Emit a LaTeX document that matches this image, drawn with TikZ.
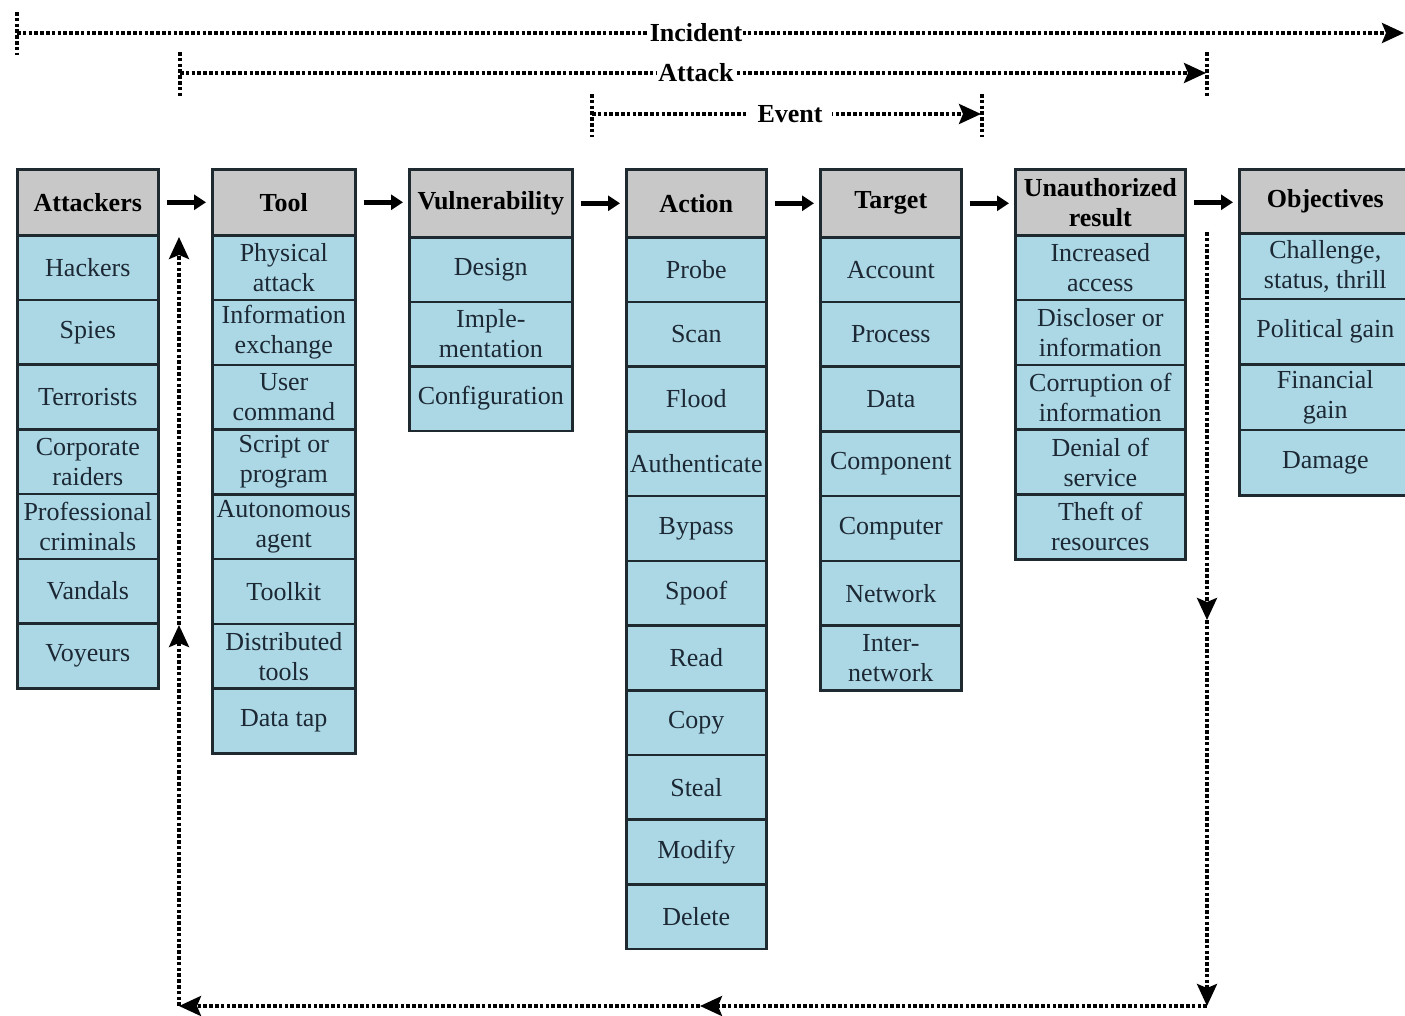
\documentclass[tikz,border=0pt]{standalone}
\usepackage{fontspec}
\setmainfont{Liberation Serif}
\usetikzlibrary{arrows.meta}

\definecolor{cellblue}{RGB}{172,216,230}
\definecolor{headgray}{RGB}{200,200,200}
\definecolor{edgecol}{RGB}{30,42,48}
\definecolor{inkcol}{RGB}{28,40,52}

\tikzset{
  box/.style={draw=edgecol, line width=2.6pt, anchor=north west, inner sep=0pt,
    align=center, font=\fontsize{26}{30}\selectfont},
  headbox/.style={box, fill=headgray, text=black, font=\fontsize{26}{30}\selectfont\bfseries},
  cellbox/.style={box, fill=cellblue, text=inkcol},
  flow/.style={line width=4.5pt, -{Triangle[length=12pt,width=15pt]},
    shorten <=7pt, shorten >=5pt},
  dotline/.style={line width=3.6pt, dash pattern=on 3.6pt off 2.2pt},
  dotarrow/.style={dotline, -{Stealth[length=22pt,width=20pt,inset=4pt]}},
  spanlabel/.style={fill=white, inner sep=1pt, font=\fontsize{26}{30}\selectfont\bfseries},
}

% #1 name, #2 left x, #3 width, #4 header height, #5 row height, #6 header, #7 items
\newcommand\drawcolumn[7]{%
  \node[headbox, minimum width=#3pt, minimum height=#4pt] (#1-0) at (#2,168) {#6};
  \foreach \t [count=\i] in {#7} {
    \node[cellbox, minimum width=#3pt, minimum height=#5pt]
      (#1-\i) at (#2,{168+#4+(\i-1)*#5}) {\t};
  }%
}

\begin{document}
\begin{tikzpicture}[x=1pt, y=-1pt]
\useasboundingbox (0,0) rectangle (1405,1016);

% columns of the taxonomy
\drawcolumn{att}{16}{141}{66}{64.7}{Attackers}
  {Hackers, Spies, Terrorists, {Corporate\\raiders}, {Professional\\criminals}, Vandals, Voyeurs}
\drawcolumn{tool}{211}{143}{66}{64.75}{Tool}
  {{Physical\\attack}, {Information\\exchange}, {User\\command}, {Script or\\program},
   {Autonomous\\agent}, Toolkit, {Distributed\\tools}, Data tap}
\drawcolumn{vul}{408}{163}{68}{64.5}{Vulnerability}
  {Design, {Imple-\\mentation}, Configuration}
\drawcolumn{act}{625}{140}{68}{64.7}{Action}
  {Probe, Scan, Flood, Authenticate, Bypass, Spoof, Read, Copy, Steal, Modify, Delete}
\drawcolumn{tgt}{819}{141}{68}{64.7}{Target}
  {Account, Process, Data, Component, Computer, Network, {Inter-\\network}}
\drawcolumn{res}{1014}{170}{66}{64.8}{Unauthorized\\result}
  {{Increased\\access}, {Discloser or\\information}, {Corruption of\\information},
   {Denial of\\service}, {Theft of\\resources}}
\drawcolumn{obj}{1238}{172}{64}{65.5}{Objectives}
  {{Challenge,\\status, thrill}, Political gain, {Financial\\gain}, Damage}

% flow between column headers
\foreach \a/\b in {att/tool, tool/vul, vul/act, act/tgt, tgt/res, res/obj}
  \draw[flow] (\a-0.east) -- (\a-0.east -| \b-0.west);

% spans above the columns
\coordinate (incL) at (17,33);
\coordinate (incR) at (1404,33);
\draw[dotline] (17,12) -- (17,55);
\draw[dotarrow] (incL) -- (incR);
\node[spanlabel] (inc) at (696,33) {Incident};

\coordinate (attL) at (180,73);
\coordinate (attR) at (1206,73);
\draw[dotline] (180,52) -- (180,97);
\draw[dotline] (1207,52) -- (1207,97);
\draw[dotarrow] (attL) -- (attR);
\node[spanlabel] (atk) at (696,73) {Attack};

\coordinate (evtL) at (592,114);
\coordinate (evtR) at (981,114);
\draw[dotline] (592,94) -- (592,137);
\draw[dotline] (982,94) -- (982,137);
\draw[dotarrow] (evtL) -- (evtR);
\node[spanlabel, inner xsep=9pt] (evt) at (790,114) {Event};

% feedback loop from result back to attackers/tools
\coordinate (fbTop) at (1207,232);
\coordinate (fbMidR) at (1207,620);
\coordinate (fbCornerR) at (1207,1006);
\coordinate (fbMidB) at (700,1006);
\coordinate (fbCornerL) at (179,1006);
\coordinate (fbMidL) at (179,625);
\coordinate (fbEnd) at (179,237);
\draw[dotarrow] (fbTop) -- (fbMidR);
\draw[dotarrow] (fbMidR) -- (fbCornerR);
\draw[dotarrow] (fbCornerR) -- (fbMidB);
\draw[dotarrow] (fbMidB) -- (fbCornerL);
\draw[dotarrow] (fbCornerL) -- (fbMidL);
\draw[dotarrow] (fbMidL) -- (fbEnd);
\end{tikzpicture}
\end{document}
